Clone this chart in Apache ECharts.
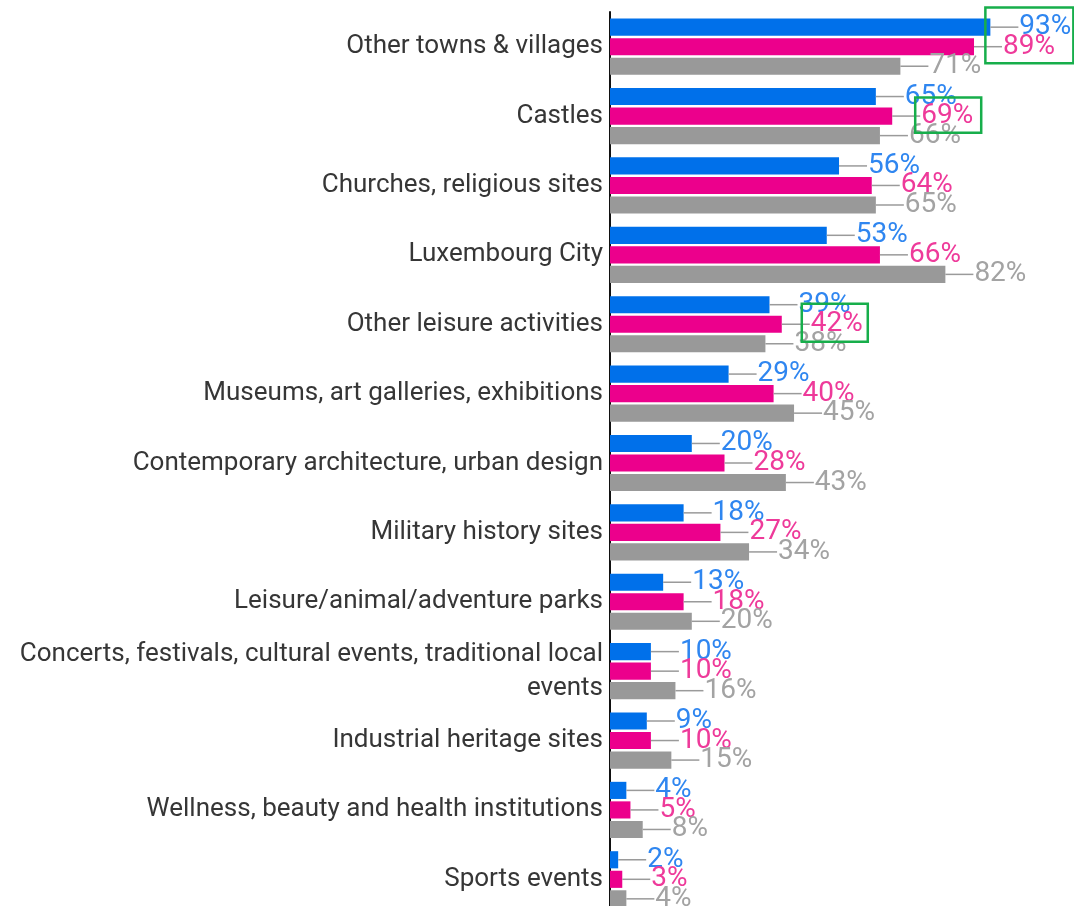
<!DOCTYPE html>
<html>
<head>
<meta charset="utf-8">
<script src="https://cdn.jsdelivr.net/npm/echarts@6/dist/echarts.min.js"></script>
<style>
  html, body { margin: 0; padding: 0; background: #fff; }
  #chart { width: 1074px; height: 906px; }
</style>
</head>
<body>
<div id="chart"></div>
<script>
// Places visited, share of respondents per group (%)
const categories = [
  'Other towns & villages',
  'Castles',
  'Churches, religious sites',
  'Luxembourg City',
  'Other leisure activities',
  'Museums, art galleries, exhibitions',
  'Contemporary architecture, urban design',
  'Military history sites',
  'Leisure/animal/adventure parks',
  'Concerts, festivals, cultural events, traditional local\nevents',
  'Industrial heritage sites',
  'Wellness, beauty and health institutions',
  'Sports events'
];
const blueValues = [93, 65, 56, 53, 39, 29, 20, 18, 13, 10, 9, 4, 2];
const pinkValues = [89, 69, 64, 66, 42, 40, 28, 27, 18, 10, 10, 5, 3];
const greyValues = [71, 66, 65, 82, 38, 45, 43, 34, 20, 16, 15, 8, 4];

// Labels picked out with a green frame: category index + series indices
const highlights = [
  { cat: 0, series: [0, 1], dx: -5, width: 88, padTop: 11, padBottom: 8 },
  { cat: 1, series: [1], dx: 23, width: 66, padTop: 10, padBottom: 8 },
  { cat: 4, series: [1], dx: 20, width: 66, padTop: 12, padBottom: 9 }
];

const seriesStyles = [
  { bar: '#0070EA', text: '#2F86F0' },
  { bar: '#EC008C', text: '#EE3A9A' },
  { bar: '#999999', text: '#A3A3A3' }
];

function makeSeries(values, idx) {
  const st = seriesStyles[idx];
  return {
    type: 'bar',
    data: values,
    barGap: '14%',
    barCategoryGap: '19%',
    itemStyle: { color: st.bar },
    silent: true,
    label: {
      show: true,
      position: 'right',
      distance: 0,
      formatter: p => '{l|}{v|' + p.value + '%}',
      rich: {
        l: { width: 28, height: 1.5, backgroundColor: '#9a9a9a' },
        v: {
          fontFamily: 'Roboto', fontSize: 28, color: st.text,
          padding: [0, 0, 0, 1]
        }
      }
    }
  };
}

const chart = echarts.init(document.getElementById('chart'), null, { renderer: 'canvas' });
chart.setOption({
  animation: false,
  grid: {
    left: 610, top: 12, width: 409, height: 902,
    containLabel: false, outerBoundsMode: 'none'
  },
  xAxis: {
    type: 'value', min: 0, max: 100, show: false,
    splitLine: { show: false }
  },
  yAxis: {
    type: 'category',
    data: categories,
    inverse: true,
    axisLine: { show: true, lineStyle: { color: '#111', width: 2 } },
    axisTick: { show: false },
    axisLabel: {
      fontFamily: 'Roboto', fontSize: 26, color: '#363636',
      margin: 7, lineHeight: 34, align: 'right', padding: [3, 0, 0, 0]
    }
  },
  series: [
    makeSeries(blueValues, 0),
    makeSeries(pinkValues, 1),
    makeSeries(greyValues, 2)
  ]
});

// Frame highlighted labels, placed from the laid-out bars
function barLayout(seriesIndex, dataIndex) {
  const s = chart.getModel().getSeriesByIndex(seriesIndex);
  return s.getData().getItemLayout(dataIndex);
}
const frames = highlights.map(h => {
  const rects = h.series.map(si => barLayout(si, h.cat));
  const endX = rects[0].x + rects[0].width;
  const top = Math.min(...rects.map(r => Math.min(r.y, r.y + r.height)));
  const bottom = Math.max(...rects.map(r => Math.max(r.y, r.y + r.height)));
  return {
    type: 'rect',
    silent: true,
    z: 100,
    shape: {
      x: endX + h.dx,
      y: top - h.padTop,
      width: h.width,
      height: bottom - top + h.padTop + h.padBottom
    },
    style: { fill: 'none', stroke: '#17AE4B', lineWidth: 2.5 }
  };
});
chart.setOption({ graphic: frames });
</script>
</body>
</html>
